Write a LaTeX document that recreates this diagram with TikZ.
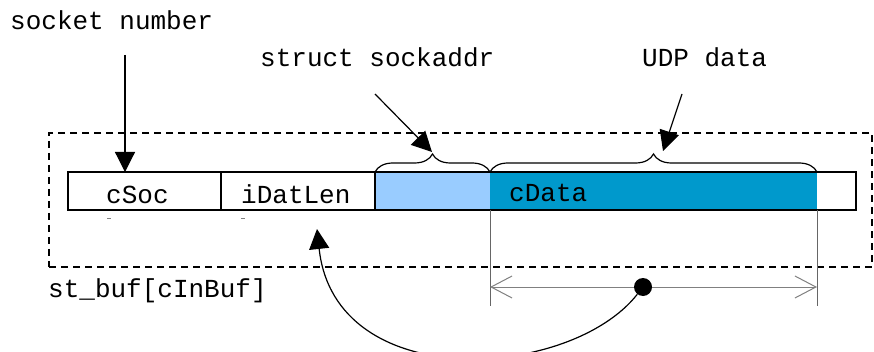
\documentclass[tikz,border=0pt]{standalone}
\usepackage{fontspec}
\setmonofont{Liberation Mono}
\usetikzlibrary{arrows.meta,decorations.pathreplacing,positioning}
\definecolor{addrblue}{RGB}{153,204,255}
\definecolor{datablue}{RGB}{0,153,204}
\tikzset{
  cell/.style={minimum height=38pt, inner sep=0pt, outer sep=0pt},
  lbl/.style={font=\fontsize{26}{26}\selectfont\ttfamily, inner sep=0pt},
  bigarrow/.style={line width=1.2pt, -{Triangle[length=20pt,width=20pt]}},
  brc/.style={decorate, decoration={brace, amplitude=18pt}, line width=1.2pt},
  dimline/.style={gray, line width=1pt, {Straight Barb[length=21pt,width=22pt]}-{Straight Barb[length=21pt,width=22pt]}},
}
\begin{document}
\begin{tikzpicture}[x=1pt, y=-1pt]
    \useasboundingbox (0,0) rectangle (874,352);
    % Draw the dashed frame
    \node[draw, dash pattern=on 7pt off 5pt, line width=1.2pt, minimum width=823pt, minimum height=134pt, inner sep=0pt] (frame) at (460.5,200) {};
    \node[lbl, anchor=base west] (bufname) at (48,298) {st\_buf[cInBuf]};
    % Draw the buffer cells
    \node[cell, minimum width=153pt] (soc) at (144.5,191) {};
    \node[cell, minimum width=154pt] (len) at (298,191) {};
    \node[cell, minimum width=115pt, fill=addrblue] (addr) at (432.5,191) {};
    \node[cell, minimum width=327pt, fill=datablue] (data) at (653.5,191) {};
    \node[cell, minimum width=39pt] (tail) at (836.5,191) {};
    \draw[line width=1.2pt] (soc.north west) rectangle (tail.south east);
    \draw[line width=1.2pt] (soc.north east) -- (soc.south east);
    \draw[line width=1.2pt] (len.north east) -- (len.south east);
    \node[lbl, anchor=base west] (soctext) at (106,204) {cSoc};
    \node[lbl, anchor=base west] (lentext) at (241,204) {iDatLen};
    \node[lbl, anchor=base west] (datatext) at (509,202) {cData};
    % Small marks under the cells
    \draw[gray, line width=1pt] (107,219) -- (111,219);
    \draw[gray, line width=1pt] (241,219) -- (245,219);
    % Socket number
    \node[lbl, anchor=base west] (socket) at (10,30) {socket number};
    \coordinate (sockstart) at (125,55);
    \draw[bigarrow] (sockstart) -- (sockstart |- soc.north);
    % Braces over the address and the data
    \draw[brc] (addr.north west) -- (addr.north east);
    \draw[brc] (data.north west) -- (data.north east);
    \node[lbl, anchor=base west] (addrname) at (260,67) {struct sockaddr};
    \node[lbl, anchor=base west] (dataname) at (642,67) {UDP data};
    \coordinate (addrstart) at (375,94);
    \coordinate (addrtip) at (432,152);
    \coordinate (datastart) at (682,94);
    \coordinate (datatip) at (663,151);
    \draw[bigarrow] (addrstart) -- (addrtip);
    \draw[bigarrow] (datastart) -- (datatip);
    % Length of the data
    \coordinate (dimmid) at (643,287);
    \draw[gray!80!black, line width=1pt] (data.south west) -- ++(0,96);
    \draw[gray!80!black, line width=1pt] (data.south east) -- ++(0,96);
    \draw[dimline] (data.south west |- dimmid) -- (data.south east |- dimmid);
    \node[circle, fill, inner sep=0pt, minimum size=18pt] (dot) at (dimmid) {};
    \coordinate (lentarget) at (317,229);
    \draw[bigarrow] (dot) .. controls (570,380) and (335,395) .. (lentarget);
\end{tikzpicture}
\end{document}
